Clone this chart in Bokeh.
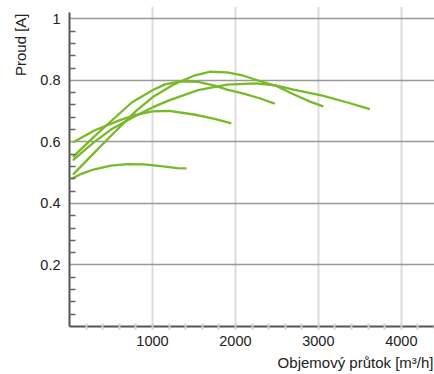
from bokeh.plotting import figure
from bokeh.models import FixedTicker, Title, Range1d
from bokeh.embed import file_html
from bokeh.resources import INLINE

# ---- data ----
flow_a = [30, 150, 300, 500, 700, 900, 1100, 1300, 1400]
amps_a = [0.481, 0.497, 0.511, 0.523, 0.528, 0.527, 0.521, 0.515, 0.514]

flow_b = [50, 300, 600, 800, 1000, 1200, 1500, 1750, 1940]
amps_b = [0.600, 0.637, 0.670, 0.688, 0.699, 0.701, 0.689, 0.675, 0.661]

flow_c = [50, 300, 500, 750, 1000, 1150, 1340, 1550, 1750, 1900, 2100, 2300, 2465]
amps_c = [0.553, 0.618, 0.667, 0.728, 0.768, 0.787, 0.797, 0.795, 0.783, 0.770, 0.757, 0.741, 0.725]

flow_d = [50, 300, 500, 750, 1000, 1200, 1550, 1900, 2250, 2500, 2700, 3050, 3350, 3610]
amps_d = [0.542, 0.600, 0.640, 0.678, 0.712, 0.735, 0.768, 0.786, 0.790, 0.783, 0.770, 0.750, 0.728, 0.707]

flow_e = [50, 300, 500, 800, 1000, 1260, 1500, 1700, 1900, 2100, 2300, 2500, 2700, 2900, 3050]
amps_e = [0.496, 0.565, 0.620, 0.700, 0.745, 0.787, 0.815, 0.828, 0.826, 0.815, 0.797, 0.781, 0.755, 0.731, 0.716]

x_ticks = [1000, 2000, 3000, 4000]
x_minor = [200, 400, 600, 800, 1200, 1400, 1600, 1800, 2200, 2400, 2600, 2800,
           3200, 3400, 3600, 3800, 4200, 4400]
y_ticks = [0.2, 0.4, 0.6, 0.8, 1.0]
y_tick_labels = ["0.2", "0.4", "0.6", "0.8", "1"]
y_minor = [0.04, 0.08, 0.12, 0.16, 0.24, 0.28, 0.32, 0.36, 0.44, 0.48, 0.52, 0.56,
           0.64, 0.68, 0.72, 0.76, 0.84, 0.88, 0.92, 0.96]

x_title = "Objemový průtok [m³/h]"
y_title = "Proud [A]"

GREEN = "#78b928"
FONT = "Liberation Sans"

p = figure(width=434, height=374, output_backend="svg", toolbar_location=None,
           x_range=Range1d(0, 4400), y_range=Range1d(0, 1.04),
           min_border_left=69, min_border_right=0, min_border_top=6, min_border_bottom=48)
p.outline_line_color = None
p.background_fill_color = "white"
p.border_fill_color = "white"

for fx, ay in [(flow_a, amps_a), (flow_b, amps_b), (flow_c, amps_c), (flow_d, amps_d), (flow_e, amps_e)]:
    p.line(fx, ay, line_color=GREEN, line_width=2.3, line_join="round", line_cap="round")

# axes
xa = p.xaxis[0]
xa.ticker = FixedTicker(ticks=x_ticks, minor_ticks=x_minor)
xa.axis_line_color = "#555555"
xa.axis_line_width = 2
xa.major_tick_in = 3
xa.major_tick_out = 3
xa.major_tick_line_color = "#d0d0d0"
xa.major_tick_line_width = 2
xa.minor_tick_in = 3
xa.minor_tick_out = 3
xa.minor_tick_line_color = "#d0d0d0"
xa.minor_tick_line_width = 2
xa.major_label_standoff = 6
xa.major_label_text_font = FONT
xa.major_label_text_font_size = "14.5px"
xa.major_label_text_color = "#222222"

ya = p.yaxis[0]
ya.ticker = FixedTicker(ticks=y_ticks, minor_ticks=y_minor)
ya.bounds = (0, 1.02)
ya.major_label_overrides = {t: s for t, s in zip(y_ticks, y_tick_labels)}
ya.axis_line_color = "#555555"
ya.axis_line_width = 2
ya.major_tick_in = 0
ya.major_tick_out = 0
ya.minor_tick_in = 6
ya.minor_tick_out = 0
ya.minor_tick_line_color = "#666666"
ya.minor_tick_line_width = 1.5
ya.major_label_standoff = 9
ya.major_label_text_font = FONT
ya.major_label_text_font_size = "14.5px"
ya.major_label_text_color = "#222222"

p.xgrid.grid_line_color = "#dcdcdc"
p.xgrid.grid_line_width = 2
p.ygrid.grid_line_color = "#999999"
p.ygrid.grid_line_width = 1.5

p.add_layout(Title(text=x_title, align="right", offset=1, standoff=6,
                   text_font=FONT, text_font_size="15px", text_font_style="normal",
                   text_color="#222222"), "below")
p.add_layout(Title(text=y_title, align="right", offset=7, standoff=17,
                   text_font=FONT, text_font_size="15px", text_font_style="normal",
                   text_color="#222222"), "left")

open("out.html", "w").write(file_html(p, INLINE))
